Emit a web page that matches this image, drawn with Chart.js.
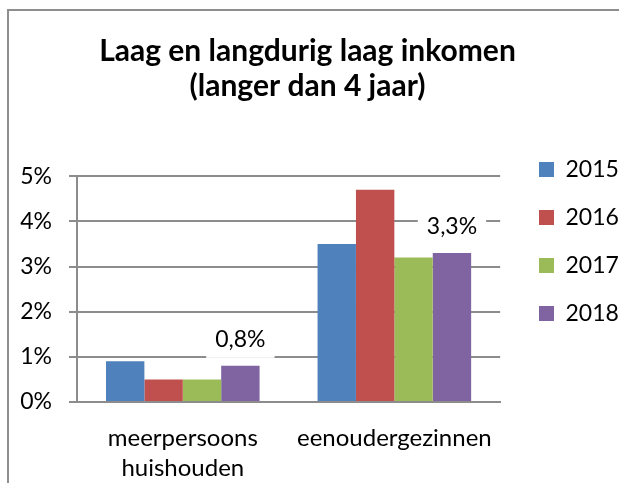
<!DOCTYPE html>
<html>
<head>
<meta charset="utf-8">
<script src="https://cdn.jsdelivr.net/npm/chart.js@4.4.1/dist/chart.umd.min.js"></script>
<style>
  html, body { margin: 0; padding: 0; background: #fff; overflow: hidden; }
  #wrap { position: relative; width: 619px; height: 483px; }
  #frame { position: absolute; left: 7px; top: 9px; width: 700px; height: 600px; border: 2px solid #8e8e8e; }
  canvas { position: absolute; left: 0; top: 0; }
</style>
</head>
<body>
<div id="wrap">
  <div id="frame"></div>
  <canvas id="chart" width="619" height="483"></canvas>
</div>
<script>
// data
const categories = [['meerpersoons', 'huishouden'], 'eenoudergezinnen'];
const years = ['2015', '2016', '2017', '2018'];
const values2015 = [0.9, 3.5];
const values2016 = [0.5, 4.7];
const values2017 = [0.5, 3.2];
const values2018 = [0.8, 3.3];
const yTicks = [0, 1, 2, 3, 4, 5];
const labelledYear = '2018'; // only this series shows its values

const colors = ['#4F81BD', '#C0504D', '#9BBB59', '#8064A2'];
const series = [values2015, values2016, values2017, values2018];

const FONT = 'Lato';
const gridGray = '#8c8c8c';

const fmt = v => v.toFixed(1).replace('.', ',') + '%';

// draws the value above each bar of the labelled series, on a white box
const valueLabels = {
  id: 'valueLabels',
  afterDatasetsDraw(chart) {
    const ctx = chart.ctx;
    chart.data.datasets.forEach((ds, i) => {
      if (ds.label !== labelledYear) return;
      const meta = chart.getDatasetMeta(i);
      meta.data.forEach((bar, j) => {
        const txt = fmt(ds.data[j]);
        ctx.save();
        ctx.font = '23px ' + FONT;
        const w = ctx.measureText(txt).width;
        const cy = bar.y - 26;
        ctx.fillStyle = '#fff';
        ctx.fillRect(bar.x - w / 2 - 9, cy - 18, w + 18, 36);
        ctx.fillStyle = '#000';
        ctx.textAlign = 'center';
        ctx.textBaseline = 'middle';
        ctx.fillText(txt, bar.x, cy);
        ctx.restore();
      });
    });
  }
};

// nudge legend column to the right, away from the plot
const legendShift = {
  id: 'legendShift',
  afterLayout(chart) {
    const lg = chart.legend;
    const dx = 539 - (lg.left + lg.options.labels.padding);
    lg.left += dx;
    lg.right += dx;
  }
};

new Chart(document.getElementById('chart'), {
  type: 'bar',
  data: {
    labels: categories,
    datasets: years.map((y, i) => ({
      label: y,
      data: series[i],
      backgroundColor: colors[i],
      borderWidth: 0,
      barPercentage: 1,
      categoryPercentage: 0.726
    }))
  },
  options: {
    responsive: false,
    animation: false,
    layout: { padding: { left: 0, right: 4, top: 0, bottom: 0 } },
    plugins: {
      title: {
        display: true,
        text: ['Laag en langdurig laag inkomen', '(langer dan 4 jaar)'],
        color: '#000',
        font: { family: FONT, size: 30, weight: 'bold', lineHeight: 1.17 },
        padding: { top: 34, bottom: 72 }
      },
      legend: {
        position: 'right',
        fullSize: true,
        align: 'center',
        labels: {
          color: '#000',
          font: { family: FONT, size: 23 },
          boxWidth: 15,
          boxHeight: 15,
          padding: 25
        }
      },
      tooltip: { enabled: false }
    },
    scales: {
      x: {
        grid: { display: false, drawTicks: false },
        border: { display: true, color: gridGray, width: 2 },
        ticks: {
          color: '#000',
          font: { family: FONT, size: 24, lineHeight: 1.25 },
          padding: 21,
          maxRotation: 0,
          autoSkip: false
        },
        afterFit(scale) { scale.height = 81; }
      },
      y: {
        min: 0,
        max: 5,
        afterBuildTicks(scale) { scale.ticks = yTicks.map(v => ({ value: v })); },
        grid: { color: gridGray, lineWidth: 2, tickLength: 8, drawTicks: true },
        border: { display: true, color: gridGray, width: 2 },
        ticks: {
          color: '#000',
          font: { family: FONT, size: 23 },
          padding: 17,
          callback: v => v + '%'
        },
        afterFit(scale) { scale.width = 77; }
      }
    }
  },
  plugins: [valueLabels, legendShift]
});
</script>
</body>
</html>
